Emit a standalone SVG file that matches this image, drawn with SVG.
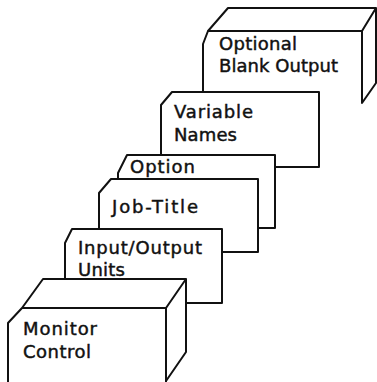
<svg xmlns="http://www.w3.org/2000/svg" width="377" height="382" viewBox="0 0 377 382">
  <style>
    .edge { fill: none; stroke: #111; stroke-width: 2; stroke-linejoin: round; stroke-linecap: round; }
    .face { fill: #fff; }
    .lbl { font-family: "DejaVu Sans", "Liberation Sans", sans-serif; font-size: 18px; fill: #111; stroke: #111; stroke-width: 0.45; }
  </style>
  <rect width="377" height="382" fill="#fff"/>

  <!-- Stacked cards, back to front -->
  <g id="optional-blank-output">
    <path class="face" d="M203,44 L208,31 L228,8 L376,8 L376,83 L362,103 L203,103 Z"/>
    <path class="edge" d="M203,92 L203,44 L208,31 L362,31 L362,103 L376,83 L376,8 L228,8 L208,31 M362,31 L376,8"/>
    <text class="lbl" x="219" y="50" textLength="78">Optional</text>
    <text class="lbl" x="219" y="72" textLength="119">Blank Output</text>
  </g>

  <g id="variable-names">
    <path class="face" d="M161,105 L172,92 L319,92 L319,167 L161,167 Z"/>
    <path class="edge" d="M161,155 L161,105 L172,92 L319,92 L319,167 L275,167"/>
    <text class="lbl" x="174" y="118" textLength="79">Variable</text>
    <text class="lbl" x="174" y="141" textLength="63">Names</text>
  </g>

  <g id="option">
    <path class="face" d="M118,173 L127,155 L275,155 L275,228 L118,228 Z"/>
    <path class="edge" d="M118,179 L118,173 L127,155 L275,155 L275,228 L258,228"/>
    <text class="lbl" x="130" y="173" textLength="65">Option</text>
  </g>

  <g id="job-title">
    <path class="face" d="M99,193 L111,179 L258,179 L258,252 L99,252 Z"/>
    <path class="edge" d="M99,229 L99,193 L111,179 L258,179 L258,252 L222,252"/>
    <text class="lbl" x="112" y="213" textLength="86">Job-Title</text>
  </g>

  <g id="input-output-units">
    <path class="face" d="M65,243 L72,229 L222,229 L222,303 L65,303 Z"/>
    <path class="edge" d="M65,279 L65,243 L72,229 L222,229 L222,303 L186,303"/>
    <text class="lbl" x="78" y="254" textLength="124">Input/Output</text>
    <text class="lbl" x="78" y="276" textLength="47">Units</text>
  </g>

  <g id="monitor-control">
    <path class="face" d="M8,323 L22,308 L43,279 L186,279 L186,352 L166,381 L8,382 Z"/>
    <path class="edge" d="M8,382 L8,323 L22,308 L166,308 L166,382 M166,381 L186,352 L186,279 L43,279 L22,308 M166,308 L186,279"/>
    <text class="lbl" x="23" y="335" textLength="74">Monitor</text>
    <text class="lbl" x="23" y="358" textLength="68">Control</text>
  </g>
</svg>
